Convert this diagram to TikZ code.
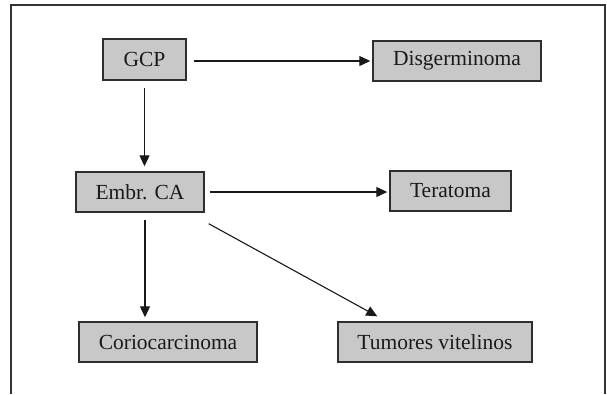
\documentclass[tikz,border=0pt]{standalone}
\usepackage{fontspec}
\setmainfont{Liberation Serif}
\usetikzlibrary{arrows.meta,calc}
\definecolor{boxfill}{HTML}{C8C8C8}
\definecolor{boxline}{HTML}{2E2E2E}
\definecolor{txt}{HTML}{1A1A1A}
\tikzset{
  box/.style={draw=boxline, line width=1.4pt, fill=boxfill, text=txt,
    minimum height=40pt, inner sep=0pt, font=\fontsize{21.5}{25}\selectfont},
  arr/.style={draw=black!90, line width=1.1pt, -{Triangle[length=11pt,width=10pt]}},
  framestyle/.style={draw=black!80, line width=1.4pt}
}
\begin{document}
\begin{tikzpicture}[x=1pt,y=-1pt]
\useasboundingbox (0,0) rectangle (607,394);
\coordinate (f1) at (11,394);
\coordinate (f2) at (11,5);
\coordinate (f3) at (605,5);
\coordinate (f4) at (605,394);
\draw[framestyle] (f1) -- (f2) -- (f3) -- (f4);

\node[box, minimum width=83pt, minimum height=41pt] (gcp) at (144.5,59.5) {GCP};
\node[box, minimum width=168pt] (dis) at (457,61) {Disgerminoma};
\node[box, minimum width=128pt] (emb) at (140,192) {Embr. CA};
\node[box, minimum width=121pt] (ter) at (450.5,191) {Teratoma};
\node[box, minimum width=178pt] (cor) at (168,342) {Coriocarcinoma};
\node[box, minimum width=194pt] (tum) at (435,342) {Tumores vitelinos};

\draw[arr, shorten <=7pt, shorten >=2pt] (gcp.east |- dis.west) -- (dis.west);
\draw[arr, shorten <=7pt, shorten >=5pt] (gcp.south) -- (gcp.south |- emb.north);
\draw[arr, shorten <=5pt, shorten >=2pt] (emb.east) -- (emb.east -| ter.west);
\draw[arr, shorten <=7pt, shorten >=4pt] ($(emb.south)+(5,0)$) -- ($(emb.south |- cor.north)+(5,0)$);
\draw[arr] ($(emb.south east)+(4,11)$) -- ($(tum.north west)+(40,-5)$);
\end{tikzpicture}
\end{document}
